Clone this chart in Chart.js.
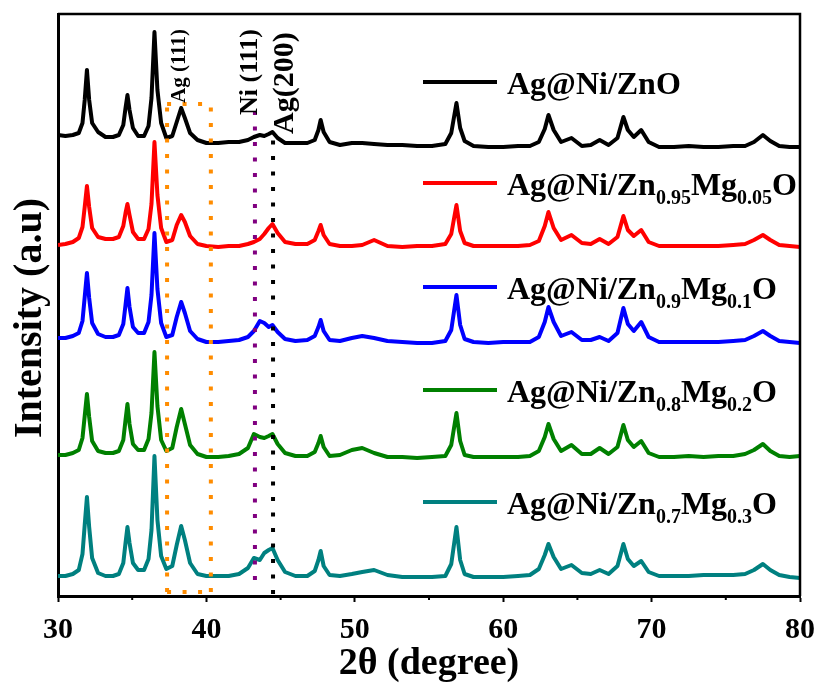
<!DOCTYPE html>
<html>
<head>
<meta charset="utf-8">
<script src="https://cdn.jsdelivr.net/npm/chart.js@4.4.1/dist/chart.umd.min.js"></script>
<style>
  html, body { margin: 0; padding: 0; background: #fff; }
  #wrap { width: 820px; height: 688px; }
</style>
</head>
<body>
<div id="wrap"><canvas id="xrd"></canvas></div>
<script>
const SERIF = '"Liberation Serif", "Times New Roman", serif';

// 2θ sampling (degree)
const twoTheta = [
  30, 30.5, 31, 31.4, 31.65, 31.8, 31.95, 32.1, 32.3, 32.7,
  33.2, 33.7, 34.1, 34.4, 34.55, 34.68, 34.82, 35.05, 35.4, 35.8,
  36.1, 36.3, 36.5, 36.7, 36.95, 37.3, 37.7, 38.0, 38.3, 38.55,
  38.9, 39.4, 40, 40.8, 41.5, 42.2, 42.8, 43.2, 43.6, 43.9,
  44.2, 44.45, 44.8, 45.3, 46, 46.8, 47.3, 47.55, 47.7, 47.9,
  48.3, 49, 49.8, 50.5, 51.3, 52.2, 53.2, 54.2, 55.2, 56.1,
  56.5, 56.85, 57.1, 57.4, 58, 59, 60, 61, 61.8, 62.4,
  62.8, 63.05, 63.4, 63.9, 64.6, 65.3, 65.9, 66.5, 67.1, 67.7,
  68.1, 68.4, 68.8, 69.3, 69.8, 70.5, 71.5, 72.5, 73.5, 74.5,
  75.5, 76.3, 76.9, 77.5, 78, 78.6, 79.3, 80
];

// intensity of each pattern above its own stacking level (a.u.)
const iZnO = [
  15, 14, 15, 17, 27, 50, 80, 50, 27, 18,
  13, 13, 15, 25, 42, 55, 40, 22, 14, 14,
  24, 52, 118, 60, 27, 12, 14, 28, 42, 32,
  17, 10, 7, 7, 8, 8, 10, 13, 15, 14,
  16, 18, 12, 7, 7, 7, 10, 20, 30, 18,
  8, 5, 7, 7, 6, 5, 5, 4, 4, 6,
  17, 47, 22, 9, 4, 3, 3, 4, 4, 8,
  21, 35, 20, 8, 12, 4, 5, 10, 5, 12,
  33, 20, 13, 20, 8, 3, 3, 4, 3, 3,
  4, 4, 8, 15, 9, 4, 3, 3
];
const iMg005 = [
  4, 5, 7, 11, 22, 42, 63, 42, 21, 12,
  10, 10, 12, 23, 36, 45, 34, 17, 10, 10,
  20, 45, 107, 54, 21, 7, 9, 24, 34, 27,
  13, 5, 3, 2, 3, 3, 5, 7, 10, 15,
  21, 25, 16, 7, 5, 5, 9, 18, 24, 14,
  5, 3, 3, 4, 9, 3, 2, 3, 3, 5,
  15, 44, 18, 6, 3, 3, 3, 3, 4, 8,
  23, 37, 21, 9, 14, 6, 5, 10, 5, 12,
  33, 19, 13, 19, 7, 3, 3, 3, 3, 3,
  4, 5, 9, 14, 9, 4, 3, 2
];
const iMg01 = [
  7, 7, 9, 12, 24, 48, 72, 47, 22, 11,
  8, 8, 10, 21, 40, 57, 38, 18, 12, 12,
  23, 50, 112, 56, 22, 8, 10, 28, 43, 32,
  14, 6, 3, 3, 4, 5, 8, 14, 24, 22,
  18, 20, 13, 6, 4, 5, 9, 18, 25, 14,
  5, 4, 7, 9, 7, 4, 3, 2, 2, 4,
  15, 50, 20, 6, 3, 2, 3, 3, 3, 8,
  23, 38, 23, 9, 13, 5, 5, 8, 4, 12,
  37, 21, 14, 23, 8, 3, 3, 3, 3, 3,
  4, 5, 9, 14, 9, 4, 3, 2
];
const iMg02 = [
  5, 5, 7, 10, 22, 44, 66, 43, 19, 9,
  7, 7, 9, 20, 40, 56, 36, 16, 10, 10,
  21, 47, 108, 54, 20, 9, 12, 33, 51, 36,
  15, 6, 3, 3, 4, 6, 12, 26, 23, 22,
  24, 26, 16, 7, 4, 4, 8, 17, 24, 13,
  4, 5, 10, 12, 7, 3, 3, 2, 3, 4,
  15, 47, 19, 5, 3, 3, 3, 3, 4, 9,
  23, 36, 21, 9, 15, 6, 6, 12, 6, 13,
  35, 20, 13, 19, 7, 3, 3, 4, 3, 4,
  4, 6, 10, 16, 9, 4, 3, 4
];
const iMg03 = [
  4, 4, 6, 10, 26, 55, 83, 53, 22, 7,
  4, 4, 6, 17, 37, 53, 37, 17, 10, 10,
  21, 50, 124, 60, 24, 11, 14, 35, 54, 40,
  17, 6, 4, 4, 4, 6, 12, 22, 20, 27,
  30, 32, 20, 8, 4, 4, 9, 20, 29, 14,
  5, 4, 6, 8, 10, 5, 3, 3, 3, 4,
  16, 53, 20, 6, 3, 3, 3, 4, 5, 11,
  25, 36, 23, 11, 15, 7, 6, 10, 6, 14,
  36, 21, 14, 19, 8, 4, 4, 4, 5, 5,
  5, 6, 10, 16, 10, 5, 3, 2
];

const patterns = [iZnO, iMg005, iMg01, iMg02, iMg03];
const offsets = [446, 347, 251, 136, 16];   // vertical stacking
const znFrac = ["", "0.95", "0.9", "0.8", "0.7"];
const mgFrac = ["", "0.05", "0.1", "0.2", "0.3"];
const colors = ["#000000", "#ff0000", "#0000ff", "#008000", "#008080"];

const xTicks = [30, 40, 50, 60, 70, 80];
const xMinor = [35, 45, 55, 65, 75];

// reference positions (2θ)
const agWindow = [37.35, 40.3];
const niLine = 43.27;
const ag200Line = 44.49;

const datasets = patterns.map((p, i) => ({
  label: i ? `Ag@Ni/Zn${znFrac[i]}Mg${mgFrac[i]}O` : "Ag@Ni/ZnO",
  data: twoTheta.map((t, k) => ({ x: t, y: p[k] + offsets[i] })),
  borderColor: colors[i],
  borderWidth: 4,
  borderJoinStyle: "round",
  pointRadius: 0,
  tension: 0,
  fill: false
}));

// sample name with subscripted Zn / Mg fractions
function drawName(ctx, i, x, y) {
  const parts = i
    ? [["Ag@Ni/Zn", 0], [znFrac[i], 1], ["Mg", 0], [mgFrac[i], 1], ["O", 0]]
    : [["Ag@Ni/ZnO", 0]];
  parts.forEach(([txt, sub]) => {
    ctx.font = sub ? `bold 20px ${SERIF}` : `bold 32px ${SERIF}`;
    ctx.fillText(txt, x, sub ? y + 9 : y);
    x += ctx.measureText(txt).width;
  });
}

const decorations = {
  id: "decorations",
  afterDatasetsDraw(chart) {
    const { ctx, chartArea: a, scales: { x, y } } = chart;
    ctx.save();

    // dotted guides
    ctx.lineWidth = 4;
    ctx.setLineDash([4, 11.5]);
    const seg = (x0, y0, x1, y1, c) => {
      ctx.strokeStyle = c;
      ctx.beginPath();
      ctx.moveTo(x.getPixelForValue(x0), y.getPixelForValue(y0));
      ctx.lineTo(x.getPixelForValue(x1), y.getPixelForValue(y1));
      ctx.stroke();
    };
    const orange = "#ff8c00";
    seg(agWindow[0], 4, agWindow[0], 492, orange);
    seg(agWindow[1], 4, agWindow[1], 492, orange);
    seg(agWindow[0], 492, agWindow[1], 492, orange);
    seg(agWindow[0], 4, agWindow[1], 4, orange);
    seg(niLine, 16, niLine, 488, "#800080");
    seg(ag200Line, 2, ag200Line, 463, "#000000");
    ctx.setLineDash([]);

    // top and right frame
    ctx.strokeStyle = "#000";
    ctx.lineWidth = 2.5;
    ctx.beginPath();
    ctx.moveTo(a.left, a.top);
    ctx.lineTo(a.right, a.top);
    ctx.lineTo(a.right, a.bottom);
    ctx.stroke();

    // minor ticks on the 2θ axis
    ctx.lineWidth = 2;
    xMinor.forEach(v => {
      const px = x.getPixelForValue(v);
      ctx.beginPath();
      ctx.moveTo(px, a.bottom);
      ctx.lineTo(px, a.bottom + 4);
      ctx.stroke();
    });

    // peak assignments, written vertically
    ctx.fillStyle = "#000";
    ctx.textAlign = "left";
    ctx.textBaseline = "alphabetic";
    [["Ag (111)", 38.56, 493, 21], ["Ni (111)", 43.41, 481, 26], ["Ag(200)", 45.84, 462, 30]]
      .forEach(([txt, t, v, size]) => {
        ctx.save();
        ctx.translate(x.getPixelForValue(t), y.getPixelForValue(v));
        ctx.rotate(-Math.PI / 2);
        ctx.font = `bold ${size}px ${SERIF}`;
        ctx.fillText(txt, 0, 0);
        ctx.restore();
      });

    // y axis title
    ctx.save();
    ctx.translate(31, 318);
    ctx.rotate(-Math.PI / 2);
    ctx.textAlign = "center";
    ctx.textBaseline = "middle";
    ctx.font = `bold 40px ${SERIF}`;
    ctx.fillText("Intensity (a.u)", 0, 0);
    ctx.restore();

    // legend
    const rowY = [82, 183, 287, 390, 502];
    ctx.lineWidth = 4;
    patterns.forEach((p, i) => {
      ctx.strokeStyle = colors[i];
      ctx.beginPath();
      ctx.moveTo(423, rowY[i]);
      ctx.lineTo(497, rowY[i]);
      ctx.stroke();
      ctx.fillStyle = "#000";
      drawName(ctx, i, 507, rowY[i] + 12);
    });

    ctx.restore();
  }
};

new Chart(document.getElementById("xrd"), {
  type: "line",
  data: { datasets },
  options: {
    responsive: true,
    maintainAspectRatio: false,
    devicePixelRatio: 1,
    animation: false,
    layout: { padding: { top: 14, right: 20, left: 0, bottom: 0 } },
    plugins: { legend: { display: false }, tooltip: { enabled: false } },
    scales: {
      x: {
        type: "linear",
        min: 30,
        max: 80,
        afterBuildTicks: s => { s.ticks = xTicks.map(v => ({ value: v })); },
        afterFit: s => { s.height = 92; s.paddingLeft = 0; s.paddingRight = 0; },
        grid: { drawOnChartArea: false, drawTicks: true, tickLength: 6, tickWidth: 2, tickColor: "#000" },
        border: { display: true, width: 3, color: "#000" },
        ticks: { color: "#000", padding: 10, maxRotation: 0, font: { family: SERIF, size: 30, weight: "bold" } },
        title: {
          display: true,
          text: "2θ (degree)",
          color: "#000",
          padding: { top: 0, bottom: 1 },
          font: { family: SERIF, size: 38, weight: "bold" }
        }
      },
      y: {
        min: 0,
        max: 582,
        afterFit: s => { s.width = 58; },
        grid: { drawOnChartArea: false, drawTicks: false },
        border: { display: true, width: 3, color: "#000" },
        ticks: { display: false }
      }
    }
  },
  plugins: [decorations]
});
</script>
</body>
</html>
